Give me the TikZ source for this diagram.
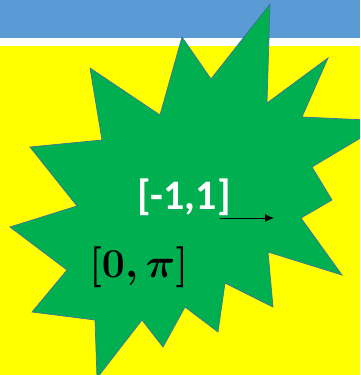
\RequirePackage{fix-cm}
\documentclass[tikz,border=0pt]{standalone}
\usepackage{fontspec}
\newfontfamily\calibri{Carlito}
\usetikzlibrary{arrows.meta}
\definecolor{bandblue}{HTML}{5B9BD5}
\definecolor{bgyellow}{HTML}{FFFF00}
\definecolor{stargreen}{HTML}{00B050}
\definecolor{staredge}{HTML}{41719C}
\tikzset{
  starshape/.style={fill=stargreen, draw=staredge, line width=0.7pt, line join=miter},
  whitelabel/.style={anchor=base west, inner sep=0pt, text=white, font=\calibri\bfseries\fontsize{42}{50}\selectfont},
  blacklabel/.style={anchor=base west, inner sep=0pt, text=black, font=\fontsize{41}{50}\selectfont\boldmath},
  arrowline/.style={draw=black, line width=0.9pt, -{Latex[length=9pt,width=8pt]}}
}
\begin{document}
\begin{tikzpicture}[x=1pt,y=-1pt]
\useasboundingbox (0,0) rectangle (360,375);
\clip (0,0) rectangle (360,375);
\fill[bgyellow] (0,0) rectangle (360,375);
\fill[white] (0,36) rectangle (360,46);
\fill[bandblue] (0,0) rectangle (360,38);
\path[starshape] (270,4) -- (267,103) -- (328,58) -- (302,117) -- (389,121)
  -- (312,167) -- (332,200) -- (301,218) -- (342,275) -- (268,252)
  -- (273,307) -- (225,283) -- (218,332) -- (185,307) -- (163,347)
  -- (142,320) -- (97,378) -- (95,320) -- (32,312) -- (67,270)
  -- (10,227) -- (77,206) -- (30,147) -- (102,140) -- (90,68)
  -- (160,115) -- (182,37) -- (211,79) -- cycle;
\node[whitelabel] (lblA) at (137,209) {[-1,1]};
\node[blacklabel] (lblB) at (89,277) {$[0,\pi]$};
\coordinate (arrS) at (220,218);
\coordinate (arrE) at (274,218);
\draw[arrowline] (arrS) -- (arrE);
\end{tikzpicture}
\end{document}
